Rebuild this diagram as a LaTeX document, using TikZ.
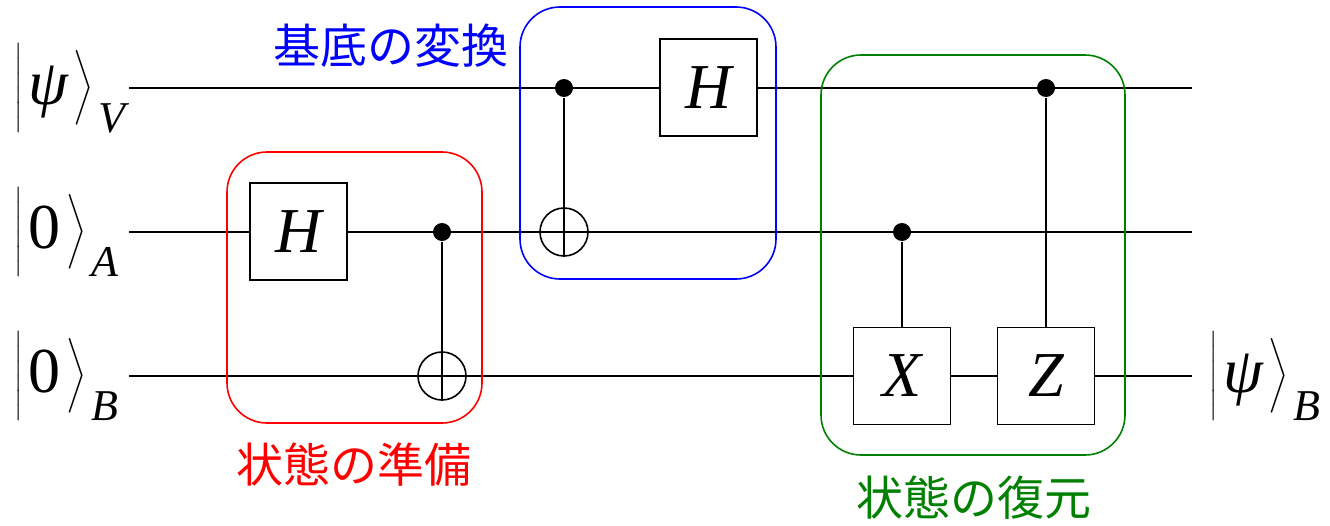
\RequirePackage{fix-cm}
\documentclass[tikz,border=0pt]{standalone}
\usepackage{amsmath}
\usepackage{fontspec}
\setmainfont{Liberation Serif}
\newfontfamily\jpfont{Noto Sans CJK JP}
\usepackage{tikz}
\tikzset{node distance=144pt, auto}
\tikzset{gate/.style={draw, fill=white, line width=1.6pt, minimum size=97pt, inner sep=0pt, font=\fontsize{64}{70}\selectfont\itshape},
  ctrl/.style={circle, fill, inner sep=0pt, minimum size=18pt},
  targ/.style={circle, draw, line width=1.6pt, inner sep=0pt, minimum size=48pt},
  ket/.style={anchor=base west, inner sep=0pt, font=\fontsize{64}{70}\selectfont},
  group/.style={draw, line width=1.6pt, rounded corners=40pt, inner sep=0pt},
  title/.style={font=\jpfont\fontsize{47}{52}\selectfont}}
\definecolor{grp}{rgb}{0,0.5,0}
\newcommand{\ketof}[2]{$\delimiterfactor=1000\delimitershortfall=0pt
  \left|\vrule height 57pt depth 25pt width 0pt\kern5pt\text{\itshape #1}\kern6pt\right\rangle$%
  \kern5pt\raisebox{-28pt}{\fontsize{44}{48}\selectfont\itshape #2}}

\begin{document}
\begin{tikzpicture}[x=1pt, y=-1pt, line width=1.6pt]
\useasboundingbox (0,0) rectangle (1330,525);
\node[ket] (kV) at (14,104) {\ketof{ψ}{V}};
\node[ket] (kA) at (14,248) {\ketof{\upshape 0}{A}};
\node[ket] (kB) at (14,392) {\ketof{\upshape 0}{B}};
\node[ket] (kout) at (1209,392) {\ketof{ψ}{B}};
\coordinate (v0) at (129,88);
\coordinate (v1) at (1192,88);
\coordinate (a0) at (129,232);
\coordinate (a1) at (1192,232);
\coordinate (b0) at (129,376);
\coordinate (b1) at (1192,376);
\draw (v0) -- (v1);
\draw (a0) -- (a1);
\draw (b0) -- (b1);

\node[group, red, minimum width=255pt, minimum height=271pt] (prep) at (354.5,287.5) {};
\node[group, blue, minimum width=256pt, minimum height=272pt] (basis) at (648,143) {};
\node[group, grp, minimum width=304pt, minimum height=400pt] (rest) at (973,255) {};
\node[title, red] (lprep) at (354,465) {状態の準備};
\node[title, blue] (lbasis) at (391,46) {基底の変換};
\node[title, grp] (lrest) at (974,498) {状態の復元};

\node[gate] (H1) at (298.5,231.5) {H};
\node[ctrl] (c1) at (442,232) {};
\node[targ] (t1) [below of=c1] {};
\draw (c1) -- (t1.south);

\node[ctrl] (c2) at (564,88) {};
\node[targ] (t2) [below of=c2] {};
\draw (c2) -- (t2.south);
\node[gate] (H2) at (708.5,87.5) {H};

\node[ctrl] (c3) at (902,232) {};
\node[gate] (X) [below of=c3] {X};
\draw (c3) -- (X);
\node[ctrl] (c4) at (1046,88) {};
\node[gate] (Z) at (1046,376) {Z};
\draw (c4) -- (Z);
\end{tikzpicture}
\end{document}
